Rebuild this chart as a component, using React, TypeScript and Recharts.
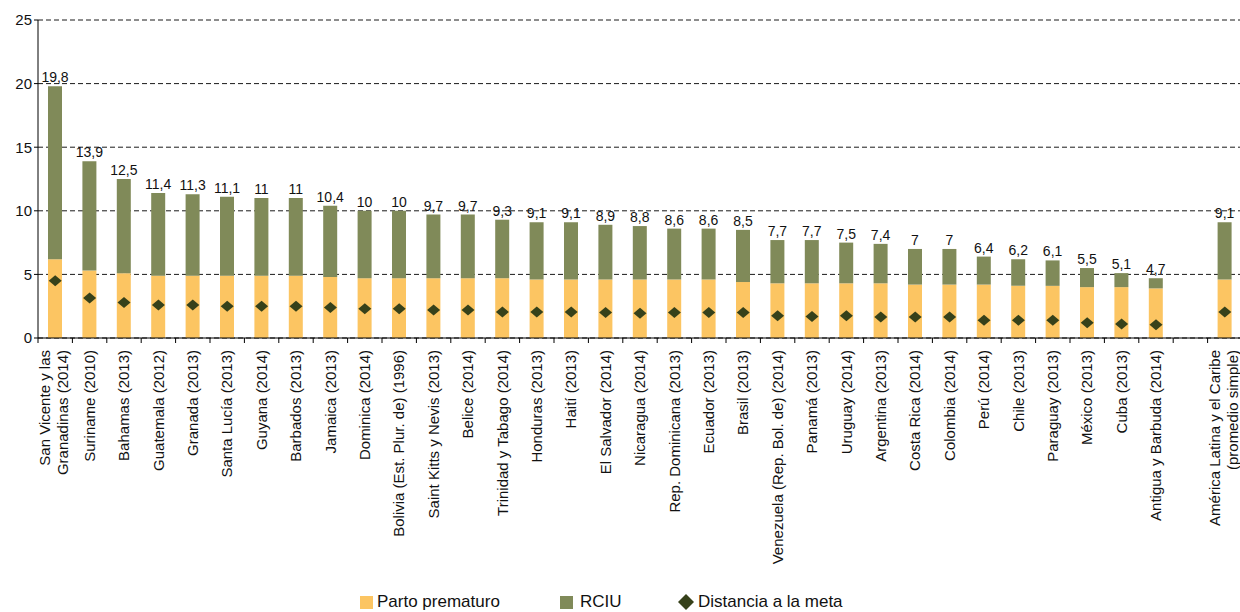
import React from "react";
import { ComposedChart, Bar, Line, XAxis, YAxis, CartesianGrid, LabelList } from "recharts";

const paises = [
  "San Vicente y las\nGranadinas (2014)",
  "Suriname (2010)",
  "Bahamas (2013)",
  "Guatemala (2012)",
  "Granada (2013)",
  "Santa Lucía (2013)",
  "Guyana (2014)",
  "Barbados (2013)",
  "Jamaica (2013)",
  "Dominica (2014)",
  "Bolivia (Est. Plur. de) (1996)",
  "Saint Kitts y Nevis (2013)",
  "Belice (2014)",
  "Trinidad y Tabago (2014)",
  "Honduras (2013)",
  "Haití (2013)",
  "El Salvador (2014)",
  "Nicaragua (2014)",
  "Rep. Dominicana (2013)",
  "Ecuador (2013)",
  "Brasil (2013)",
  "Venezuela (Rep. Bol. de) (2014)",
  "Panamá (2013)",
  "Uruguay (2014)",
  "Argentina (2013)",
  "Costa Rica (2014)",
  "Colombia (2014)",
  "Perú (2014)",
  "Chile (2013)",
  "Paraguay (2013)",
  "México (2013)",
  "Cuba (2013)",
  "Antigua y Barbuda (2014)",
  "",
  "América Latina y el Caribe\n(promedio simple)",
];

const partoPrematuro = [
  6.2, 5.3, 5.1, 4.9, 4.9, 4.9, 4.9, 4.9, 4.8, 4.7, 4.7, 4.7, 4.7, 4.7, 4.6, 4.6, 4.6, 4.6,
  4.6, 4.6, 4.4, 4.3, 4.3, 4.3, 4.3, 4.2, 4.2, 4.2, 4.1, 4.1, 4.0, 4.0, 3.9, null, 4.6,
];

const rciu = [
  13.6, 8.6, 7.4, 6.5, 6.4, 6.2, 6.1, 6.1, 5.6, 5.3, 5.3, 5.0, 5.0, 4.6, 4.5, 4.5, 4.3, 4.2,
  4.0, 4.0, 4.1, 3.4, 3.4, 3.2, 3.1, 2.8, 2.8, 2.2, 2.1, 2.0, 1.5, 1.1, 0.8, null, 4.5,
];

const totales = [
  19.8, 13.9, 12.5, 11.4, 11.3, 11.1, 11, 11, 10.4, 10, 10, 9.7, 9.7, 9.3, 9.1, 9.1, 8.9, 8.8,
  8.6, 8.6, 8.5, 7.7, 7.7, 7.5, 7.4, 7, 7, 6.4, 6.2, 6.1, 5.5, 5.1, 4.7, null, 9.1,
];

const distanciaMeta = [
  4.5, 3.15, 2.8, 2.6, 2.6, 2.5, 2.5, 2.5, 2.4, 2.3, 2.3, 2.2, 2.2, 2.05, 2.05, 2.05, 2.0, 1.95,
  2.0, 2.0, 2.0, 1.75, 1.7, 1.75, 1.65, 1.65, 1.65, 1.4, 1.4, 1.4, 1.2, 1.1, 1.05, null, 2.05,
];

const yTicks = [0, 5, 10, 15, 20, 25];

const data = paises.map((pais, i) => ({
  pais,
  prematuro: partoPrematuro[i],
  rciu: rciu[i],
  total: totales[i],
  distancia: distanciaMeta[i],
}));

const FONT = "'Liberation Sans', Arial, sans-serif";
const NARANJA = "#FCC562";
const VERDE = "#808A59";
const DIAMANTE = "#36411A";

const CHART_W = 1245;
const CHART_H = 612;
const MARGIN = { top: 20, right: 3, bottom: 30, left: 0 };
const Y_W = 38;
const BAND = (CHART_W - MARGIN.left - MARGIN.right - Y_W) / paises.length;

function PaisTick({ x, y, payload }: any) {
  const lines = String(payload.value).split("\n");
  const offsets = lines.length > 1 ? [-10, 8] : [0];
  return (
    <g>
      <line x1={x - BAND / 2} x2={x - BAND / 2} y1={y} y2={y + 5} stroke="#000" />
      {payload.value !== "" &&
        lines.map((l, i) => (
          <text
            key={i}
            transform={`translate(${x + offsets[i]}, ${y + 12}) rotate(-90)`}
            textAnchor="end"
            dy="0.35em"
            fontSize={15}
            fontFamily={FONT}
            fill="#111"
          >
            {l}
          </text>
        ))}
    </g>
  );
}

function TotalLabel({ x, y, width, value }: any) {
  if (value == null) return null;
  return (
    <text x={x + width / 2} y={y - 4} textAnchor="middle" fontSize={14} fontFamily={FONT} fill="#111">
      {String(value).replace(".", ",")}
    </text>
  );
}

function Diamond({ cx, cy, index }: any) {
  if (cx == null || cy == null) return <g key={`d-${index}`} />;
  return (
    <polygon
      key={`d-${index}`}
      points={`${cx - 6.5},${cy} ${cx},${cy - 5.5} ${cx + 6.5},${cy} ${cx},${cy + 5.5}`}
      fill={DIAMANTE}
    />
  );
}

export default function App() {
  return (
    <div
      style={{
        position: "absolute",
        left: 0,
        top: 0,
        width: 1240,
        height: 612,
        overflow: "hidden",
        background: "#fff",
      }}
    >
      <ComposedChart width={CHART_W} height={CHART_H} data={data} margin={MARGIN}>
        <CartesianGrid vertical={false} stroke="#1a1a1a" strokeDasharray="5 3" />
        <XAxis
          dataKey="pais"
          interval={0}
          height={244}
          tickSize={0}
          tickMargin={0}
          tickLine={false}
          axisLine={{ stroke: "#000" }}
          tick={<PaisTick />}
        />
        <YAxis
          domain={[0, 25]}
          ticks={yTicks}
          interval={0}
          width={Y_W}
          tickSize={4}
          tickMargin={2}
          axisLine={{ stroke: "#000" }}
          tickLine={{ stroke: "#000" }}
          tick={{ fontSize: 15, fill: "#111", fontFamily: FONT }}
        />
        <Bar dataKey="prematuro" stackId="a" fill={NARANJA} barSize={14} isAnimationActive={false} />
        <Bar dataKey="rciu" stackId="a" fill={VERDE} barSize={14} isAnimationActive={false}>
          <LabelList dataKey="total" content={<TotalLabel />} />
        </Bar>
        <Line
          dataKey="distancia"
          stroke="none"
          dot={(p: any) => <Diamond {...p} />}
          activeDot={false}
          isAnimationActive={false}
        />
      </ComposedChart>

      <div style={{ position: "absolute", left: 360, top: 592, height: 20, display: "flex", alignItems: "center", fontFamily: FONT, fontSize: 17, color: "#111" }}>
        <div style={{ width: 13, height: 13, background: NARANJA, marginRight: 4 }} />
        <span>Parto prematuro</span>
      </div>
      <div style={{ position: "absolute", left: 560, top: 592, height: 20, display: "flex", alignItems: "center", fontFamily: FONT, fontSize: 17, color: "#111" }}>
        <div style={{ width: 13, height: 13, background: VERDE, marginRight: 7 }} />
        <span>RCIU</span>
      </div>
      <div style={{ position: "absolute", left: 678, top: 592, height: 20, display: "flex", alignItems: "center", fontFamily: FONT, fontSize: 17, color: "#111" }}>
        <svg width={16} height={16} style={{ marginRight: 4 }}>
          <polygon points="0,8 8,0 16,8 8,16" fill={DIAMANTE} />
        </svg>
        <span>Distancia a la meta</span>
      </div>
    </div>
  );
}
